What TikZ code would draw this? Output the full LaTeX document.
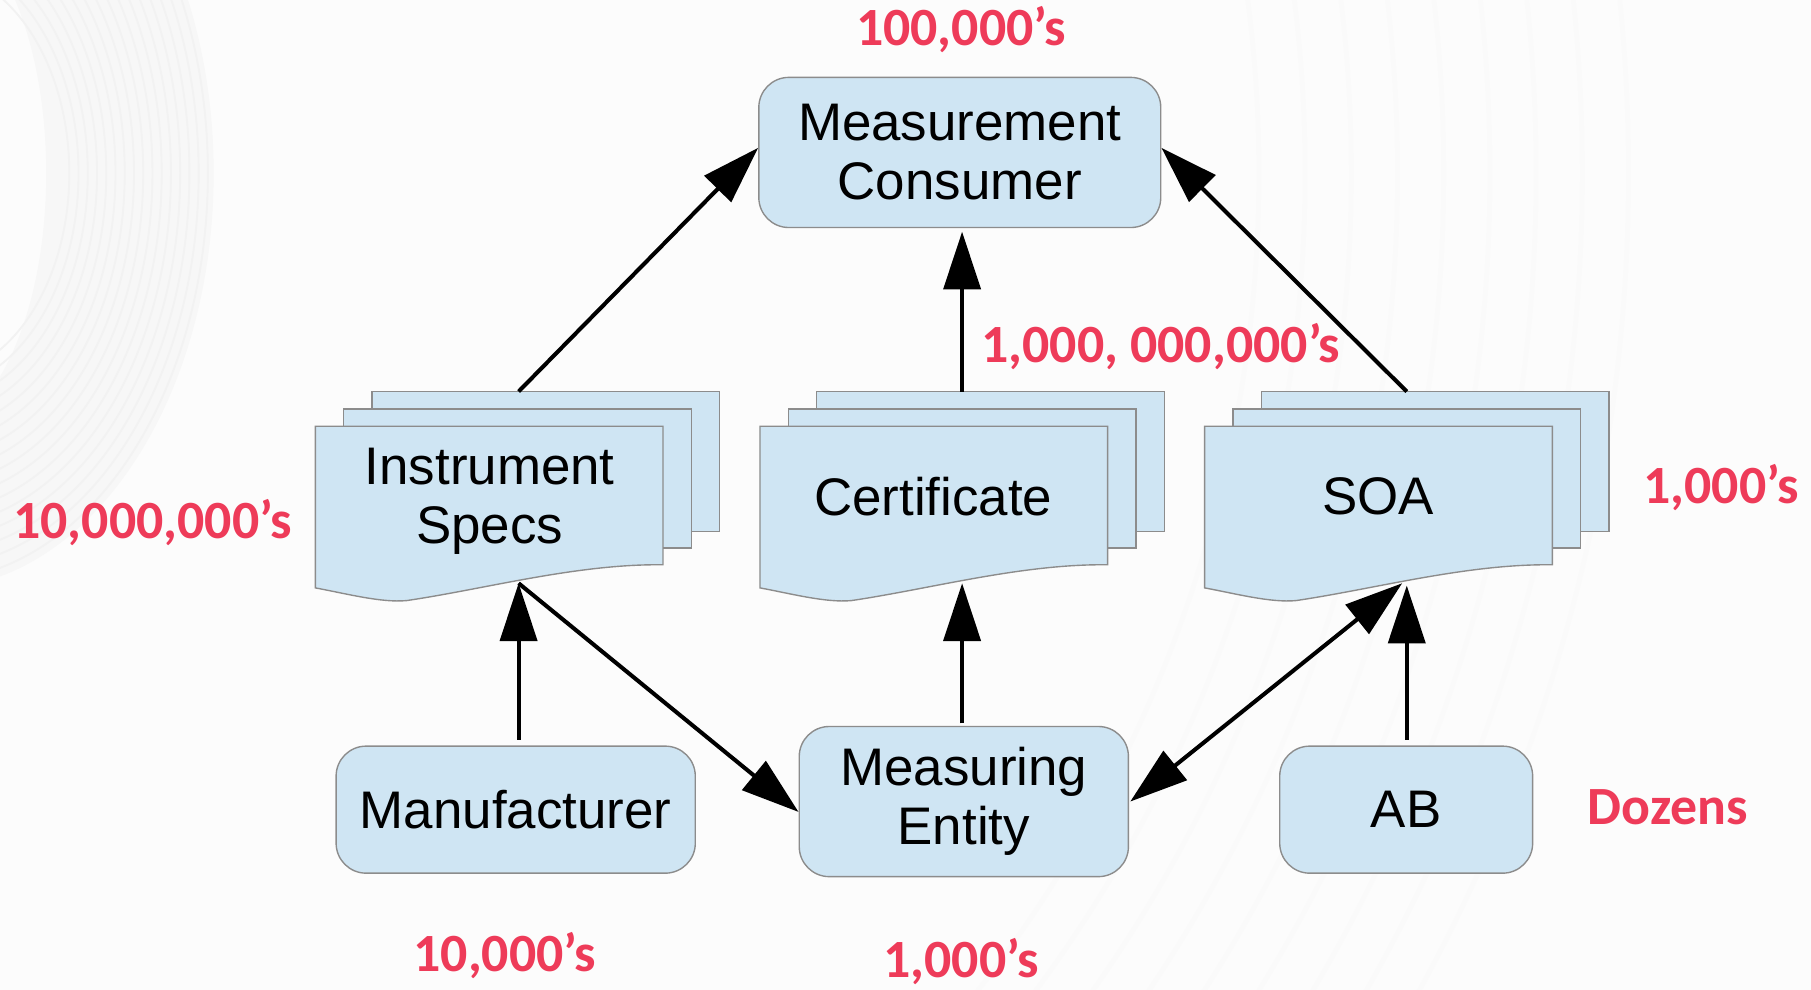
\documentclass[tikz,border=0pt]{standalone}
\usepackage{fontspec}
\setmainfont{Liberation Sans}
\newfontfamily\lblfont{Carlito}
\usetikzlibrary{arrows.meta}
\definecolor{boxfill}{RGB}{207,229,243}
\definecolor{boxline}{RGB}{140,140,140}
\definecolor{lblred}{RGB}{238,59,89}
\definecolor{bgcol}{RGB}{252,252,252}
\newcommand\docstack[1]{%
  \foreach \dx/\ptop/\pbot in {49/339/460,24.5/354/474.5}{%
    \draw[page] ({#1+\dx},\ptop) rectangle ({#1+\dx+301},\pbot);}%
  \draw[page] (#1,369) -- ({#1+301},369) -- ({#1+301},489)
    .. controls ({#1+227},488) and ({#1+147},510) .. ({#1+79},520)
    .. controls ({#1+57},522) and ({#1+27},514) .. (#1,509) -- cycle;}
\begin{document}
\begin{tikzpicture}[x=0.5pt,y=-0.5pt,
  page/.style={draw=boxline,fill=boxfill,line width=0.6pt},
  box/.style={draw=boxline,fill=boxfill,line width=0.6pt,rounded corners=13pt,
    align=center,font=\fontsize{22.9}{25.5}\selectfont,inner sep=0pt},
  doctext/.style={align=center,font=\fontsize{22.9}{25.5}\selectfont,inner sep=0pt},
  lbl/.style={text=lblred,font=\lblfont\bfseries\fontsize{23.3}{27}\selectfont,anchor=base,inner sep=0pt},
  conn/.style={line width=1.75pt,-{Triangle[length=25pt,width=16pt]}},
  dconn/.style={line width=1.75pt,{Triangle[length=25pt,width=16pt]}-{Triangle[length=25pt,width=16pt]}},
]
\useasboundingbox (0,0) rectangle (1568,857);
\fill[bgcol] (0,0) rectangle (1568,857);
\begin{scope}
\clip (0,0) rectangle (1568,857);
\fill[black!3,even odd rule] (-60,150) ellipse [x radius=122.5pt, y radius=180pt]
  (-60,150) ellipse [x radius=50pt, y radius=110pt];
\foreach \r in {60,64,...,122}{
  \pgfmathsetlengthmacro\ry{\r*1.47pt}
  \draw[black!5,line width=0.8pt] (-60,150) ellipse [x radius=\r pt, y radius=\ry];}
\foreach \r in {575,595,...,750}{
  \draw[black!2,line width=2pt] (-60,150) circle [radius=\r pt];}
\end{scope}

% boxes
\node[box,minimum width=174pt,minimum height=65pt] (MC) at (831,132) {Measurement\\Consumer};
\node[box,minimum width=155.5pt,minimum height=55pt] (MF) at (446.5,701) {Manufacturer};
\node[box,minimum width=142.5pt,minimum height=65pt] (ME) at (834.5,694) {Measuring\\Entity};
\node[box,minimum width=109.5pt,minimum height=55pt] (AB) at (1217.5,701) {AB};

% document stacks
\docstack{273}
\docstack{658}
\docstack{1043}
\node[doctext] (IS) at (424,434) {Instrument\\Specs};
\node[doctext] (CE) at (808,430) {Certificate};
\node[doctext] (SO) at (1193,430) {SOA};
\coordinate (IStop) at (449,339);
\coordinate (ISbot) at (449,505);
\coordinate (CEtop) at (833,339);
\coordinate (CEbot) at (833,505);
\coordinate (SOtop) at (1218,339);
\coordinate (SObotL) at (1214,505);
\coordinate (SObotR) at (1218,507);

% connectors
\draw[conn] (IStop) -- ([yshift=2pt]MC.west);
\draw[conn] (CEtop) -- ([yshift=-1.5pt]MC.south -| CEtop);
\draw[conn] (SOtop) -- ([yshift=2pt]MC.east);
\draw[conn] ([yshift=2.5pt]MF.north -| ISbot) -- (ISbot);
\draw[conn] (ISbot) -- ([yshift=-4.5pt]ME.west);
\draw[conn] ([yshift=1pt]ME.north -| CEbot) -- (CEbot);
\draw[dconn] ([xshift=0.5pt]ME.east) -- (SObotL);
\draw[conn] ([yshift=2.5pt]AB.north -| SObotR) -- (SObotR);

% labels
\node[lbl] (L1) at (832,39) {100,000’s};
\node[lbl] (L2) at (1005,314) {1,000, 000,000’s};
\node[lbl] (L3) at (132,466) {10,000,000’s};
\node[lbl] (L4) at (1490,436) {1,000’s};
\node[lbl] (L5) at (1444,714) {Dozens};
\node[lbl] (L6) at (437,841) {10,000’s};
\node[lbl] (L7) at (832,846) {1,000’s};
\end{tikzpicture}
\end{document}
